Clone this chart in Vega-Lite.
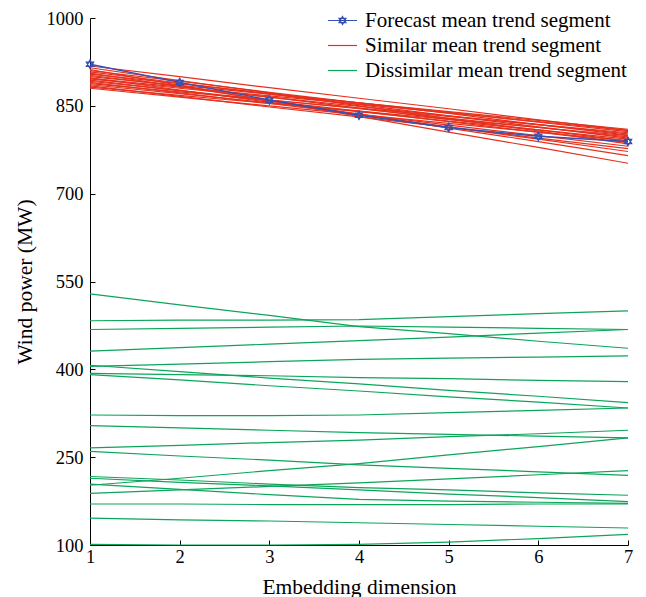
{
  "$schema": "https://vega.github.io/schema/vega-lite/v6.json",
  "width": 538,
  "height": 527,
  "autosize": "none",
  "padding": {"left": 90, "top": 18, "right": 18, "bottom": 52},
  "background": "white",
  "config": {
    "view": {"stroke": null},
    "font": "Liberation Serif",
    "axis": {
      "grid": false,
      "domainColor": "#000000",
      "tickColor": "#000000",
      "labelColor": "#000000",
      "titleColor": "#000000",
      "labelFont": "Liberation Serif",
      "titleFont": "Liberation Serif",
      "labelFontSize": 18.5,
      "titleFontSize": 21.5,
      "titleFontWeight": "normal",
      "tickSize": -5,
      "domainWidth": 1
    }
  },
  "data": {
    "values": [
      {"s":"g1","t":"D","x":1,"y":304},{"s":"g1","t":"D","x":2,"y":300},{"s":"g1","t":"D","x":3,"y":296},{"s":"g1","t":"D","x":4,"y":292},{"s":"g1","t":"D","x":5,"y":289},{"s":"g1","t":"D","x":6,"y":286},{"s":"g1","t":"D","x":7,"y":283},
      {"s":"g2","t":"D","x":1,"y":266},{"s":"g2","t":"D","x":2,"y":270},{"s":"g2","t":"D","x":3,"y":275},{"s":"g2","t":"D","x":4,"y":279},{"s":"g2","t":"D","x":5,"y":285},{"s":"g2","t":"D","x":6,"y":290},{"s":"g2","t":"D","x":7,"y":296},
      {"s":"g3","t":"D","x":1,"y":260},{"s":"g3","t":"D","x":2,"y":252},{"s":"g3","t":"D","x":3,"y":245},{"s":"g3","t":"D","x":4,"y":237},{"s":"g3","t":"D","x":5,"y":231},{"s":"g3","t":"D","x":6,"y":225},{"s":"g3","t":"D","x":7,"y":219},
      {"s":"g4","t":"D","x":1,"y":202},{"s":"g4","t":"D","x":2,"y":214},{"s":"g4","t":"D","x":3,"y":227},{"s":"g4","t":"D","x":4,"y":239},{"s":"g4","t":"D","x":5,"y":254},{"s":"g4","t":"D","x":6,"y":268},{"s":"g4","t":"D","x":7,"y":283},
      {"s":"g5","t":"D","x":1,"y":217},{"s":"g5","t":"D","x":2,"y":211},{"s":"g5","t":"D","x":3,"y":204},{"s":"g5","t":"D","x":4,"y":198},{"s":"g5","t":"D","x":5,"y":194},{"s":"g5","t":"D","x":6,"y":189},{"s":"g5","t":"D","x":7,"y":185},
      {"s":"g6","t":"D","x":1,"y":214},{"s":"g6","t":"D","x":2,"y":207},{"s":"g6","t":"D","x":3,"y":201},{"s":"g6","t":"D","x":4,"y":194},{"s":"g6","t":"D","x":5,"y":187},{"s":"g6","t":"D","x":6,"y":181},{"s":"g6","t":"D","x":7,"y":174},
      {"s":"g7","t":"D","x":1,"y":204},{"s":"g7","t":"D","x":2,"y":195},{"s":"g7","t":"D","x":3,"y":186},{"s":"g7","t":"D","x":4,"y":178},{"s":"g7","t":"D","x":5,"y":175},{"s":"g7","t":"D","x":6,"y":173},{"s":"g7","t":"D","x":7,"y":171},
      {"s":"g8","t":"D","x":1,"y":188},{"s":"g8","t":"D","x":2,"y":194},{"s":"g8","t":"D","x":3,"y":200},{"s":"g8","t":"D","x":4,"y":206},{"s":"g8","t":"D","x":5,"y":213},{"s":"g8","t":"D","x":6,"y":220},{"s":"g8","t":"D","x":7,"y":227},
      {"s":"g9","t":"D","x":1,"y":170},{"s":"g9","t":"D","x":2,"y":170},{"s":"g9","t":"D","x":3,"y":169},{"s":"g9","t":"D","x":4,"y":169},{"s":"g9","t":"D","x":5,"y":169},{"s":"g9","t":"D","x":6,"y":170},{"s":"g9","t":"D","x":7,"y":170},
      {"s":"g10","t":"D","x":1,"y":146},{"s":"g10","t":"D","x":2,"y":143},{"s":"g10","t":"D","x":3,"y":141},{"s":"g10","t":"D","x":4,"y":138},{"s":"g10","t":"D","x":5,"y":135},{"s":"g10","t":"D","x":6,"y":132},{"s":"g10","t":"D","x":7,"y":129},
      {"s":"g11","t":"D","x":1,"y":101},{"s":"g11","t":"D","x":2,"y":100},{"s":"g11","t":"D","x":3,"y":100},{"s":"g11","t":"D","x":4,"y":101},{"s":"g11","t":"D","x":5,"y":105},{"s":"g11","t":"D","x":6,"y":111},{"s":"g11","t":"D","x":7,"y":118},
      {"s":"g12","t":"D","x":1,"y":529},{"s":"g12","t":"D","x":2,"y":510},{"s":"g12","t":"D","x":3,"y":492},{"s":"g12","t":"D","x":4,"y":473},{"s":"g12","t":"D","x":5,"y":461},{"s":"g12","t":"D","x":6,"y":448},{"s":"g12","t":"D","x":7,"y":436},
      {"s":"g13","t":"D","x":1,"y":483},{"s":"g13","t":"D","x":2,"y":484},{"s":"g13","t":"D","x":3,"y":484},{"s":"g13","t":"D","x":4,"y":485},{"s":"g13","t":"D","x":5,"y":490},{"s":"g13","t":"D","x":6,"y":495},{"s":"g13","t":"D","x":7,"y":500},
      {"s":"g14","t":"D","x":1,"y":468},{"s":"g14","t":"D","x":2,"y":470},{"s":"g14","t":"D","x":3,"y":472},{"s":"g14","t":"D","x":4,"y":474},{"s":"g14","t":"D","x":5,"y":472},{"s":"g14","t":"D","x":6,"y":470},{"s":"g14","t":"D","x":7,"y":468},
      {"s":"g15","t":"D","x":1,"y":431},{"s":"g15","t":"D","x":2,"y":437},{"s":"g15","t":"D","x":3,"y":443},{"s":"g15","t":"D","x":4,"y":449},{"s":"g15","t":"D","x":5,"y":455},{"s":"g15","t":"D","x":6,"y":462},{"s":"g15","t":"D","x":7,"y":468},
      {"s":"g16","t":"D","x":1,"y":405},{"s":"g16","t":"D","x":2,"y":409},{"s":"g16","t":"D","x":3,"y":413},{"s":"g16","t":"D","x":4,"y":417},{"s":"g16","t":"D","x":5,"y":419},{"s":"g16","t":"D","x":6,"y":421},{"s":"g16","t":"D","x":7,"y":423},
      {"s":"g17","t":"D","x":1,"y":407},{"s":"g17","t":"D","x":2,"y":396},{"s":"g17","t":"D","x":3,"y":385},{"s":"g17","t":"D","x":4,"y":375},{"s":"g17","t":"D","x":5,"y":364},{"s":"g17","t":"D","x":6,"y":354},{"s":"g17","t":"D","x":7,"y":343},
      {"s":"g18","t":"D","x":1,"y":393},{"s":"g18","t":"D","x":2,"y":391},{"s":"g18","t":"D","x":3,"y":389},{"s":"g18","t":"D","x":4,"y":386},{"s":"g18","t":"D","x":5,"y":384},{"s":"g18","t":"D","x":6,"y":381},{"s":"g18","t":"D","x":7,"y":379},
      {"s":"g19","t":"D","x":1,"y":391},{"s":"g19","t":"D","x":2,"y":382},{"s":"g19","t":"D","x":3,"y":372},{"s":"g19","t":"D","x":4,"y":363},{"s":"g19","t":"D","x":5,"y":353},{"s":"g19","t":"D","x":6,"y":344},{"s":"g19","t":"D","x":7,"y":334},
      {"s":"g20","t":"D","x":1,"y":322},{"s":"g20","t":"D","x":2,"y":321},{"s":"g20","t":"D","x":3,"y":321},{"s":"g20","t":"D","x":4,"y":322},{"s":"g20","t":"D","x":5,"y":326},{"s":"g20","t":"D","x":6,"y":330},{"s":"g20","t":"D","x":7,"y":334},
      {"s":"r1","t":"S","x":1,"y":918},{"s":"r1","t":"S","x":2,"y":900},{"s":"r1","t":"S","x":3,"y":881},{"s":"r1","t":"S","x":4,"y":863},{"s":"r1","t":"S","x":5,"y":845},{"s":"r1","t":"S","x":6,"y":826},{"s":"r1","t":"S","x":7,"y":808},
      {"s":"r2","t":"S","x":1,"y":915},{"s":"r2","t":"S","x":2,"y":893},{"s":"r2","t":"S","x":3,"y":872},{"s":"r2","t":"S","x":4,"y":850},{"s":"r2","t":"S","x":5,"y":828},{"s":"r2","t":"S","x":6,"y":807},{"s":"r2","t":"S","x":7,"y":785},
      {"s":"r3","t":"S","x":1,"y":912},{"s":"r3","t":"S","x":2,"y":885},{"s":"r3","t":"S","x":3,"y":859},{"s":"r3","t":"S","x":4,"y":832},{"s":"r3","t":"S","x":5,"y":805},{"s":"r3","t":"S","x":6,"y":779},{"s":"r3","t":"S","x":7,"y":752},
      {"s":"r4","t":"S","x":1,"y":910},{"s":"r4","t":"S","x":2,"y":892},{"s":"r4","t":"S","x":3,"y":873},{"s":"r4","t":"S","x":4,"y":855},{"s":"r4","t":"S","x":5,"y":837},{"s":"r4","t":"S","x":6,"y":818},{"s":"r4","t":"S","x":7,"y":800},
      {"s":"r5","t":"S","x":1,"y":908},{"s":"r5","t":"S","x":2,"y":889},{"s":"r5","t":"S","x":3,"y":870},{"s":"r5","t":"S","x":4,"y":852},{"s":"r5","t":"S","x":5,"y":833},{"s":"r5","t":"S","x":6,"y":814},{"s":"r5","t":"S","x":7,"y":795},
      {"s":"r6","t":"S","x":1,"y":906},{"s":"r6","t":"S","x":2,"y":883},{"s":"r6","t":"S","x":3,"y":859},{"s":"r6","t":"S","x":4,"y":836},{"s":"r6","t":"S","x":5,"y":812},{"s":"r6","t":"S","x":6,"y":789},{"s":"r6","t":"S","x":7,"y":765},
      {"s":"r7","t":"S","x":1,"y":904},{"s":"r7","t":"S","x":2,"y":888},{"s":"r7","t":"S","x":3,"y":871},{"s":"r7","t":"S","x":4,"y":855},{"s":"r7","t":"S","x":5,"y":839},{"s":"r7","t":"S","x":6,"y":822},{"s":"r7","t":"S","x":7,"y":806},
      {"s":"r8","t":"S","x":1,"y":902},{"s":"r8","t":"S","x":2,"y":883},{"s":"r8","t":"S","x":3,"y":865},{"s":"r8","t":"S","x":4,"y":846},{"s":"r8","t":"S","x":5,"y":827},{"s":"r8","t":"S","x":6,"y":809},{"s":"r8","t":"S","x":7,"y":790},
      {"s":"r9","t":"S","x":1,"y":900},{"s":"r9","t":"S","x":2,"y":885},{"s":"r9","t":"S","x":3,"y":870},{"s":"r9","t":"S","x":4,"y":855},{"s":"r9","t":"S","x":5,"y":840},{"s":"r9","t":"S","x":6,"y":825},{"s":"r9","t":"S","x":7,"y":810},
      {"s":"r10","t":"S","x":1,"y":898},{"s":"r10","t":"S","x":2,"y":877},{"s":"r10","t":"S","x":3,"y":856},{"s":"r10","t":"S","x":4,"y":835},{"s":"r10","t":"S","x":5,"y":814},{"s":"r10","t":"S","x":6,"y":793},{"s":"r10","t":"S","x":7,"y":772},
      {"s":"r11","t":"S","x":1,"y":896},{"s":"r11","t":"S","x":2,"y":880},{"s":"r11","t":"S","x":3,"y":865},{"s":"r11","t":"S","x":4,"y":849},{"s":"r11","t":"S","x":5,"y":833},{"s":"r11","t":"S","x":6,"y":818},{"s":"r11","t":"S","x":7,"y":802},
      {"s":"r12","t":"S","x":1,"y":894},{"s":"r12","t":"S","x":2,"y":876},{"s":"r12","t":"S","x":3,"y":858},{"s":"r12","t":"S","x":4,"y":841},{"s":"r12","t":"S","x":5,"y":823},{"s":"r12","t":"S","x":6,"y":805},{"s":"r12","t":"S","x":7,"y":787},
      {"s":"r13","t":"S","x":1,"y":892},{"s":"r13","t":"S","x":2,"y":876},{"s":"r13","t":"S","x":3,"y":860},{"s":"r13","t":"S","x":4,"y":845},{"s":"r13","t":"S","x":5,"y":829},{"s":"r13","t":"S","x":6,"y":813},{"s":"r13","t":"S","x":7,"y":797},
      {"s":"r14","t":"S","x":1,"y":890},{"s":"r14","t":"S","x":2,"y":872},{"s":"r14","t":"S","x":3,"y":854},{"s":"r14","t":"S","x":4,"y":836},{"s":"r14","t":"S","x":5,"y":817},{"s":"r14","t":"S","x":6,"y":799},{"s":"r14","t":"S","x":7,"y":781},
      {"s":"r15","t":"S","x":1,"y":888},{"s":"r15","t":"S","x":2,"y":874},{"s":"r15","t":"S","x":3,"y":860},{"s":"r15","t":"S","x":4,"y":846},{"s":"r15","t":"S","x":5,"y":832},{"s":"r15","t":"S","x":6,"y":818},{"s":"r15","t":"S","x":7,"y":804},
      {"s":"r16","t":"S","x":1,"y":886},{"s":"r16","t":"S","x":2,"y":871},{"s":"r16","t":"S","x":3,"y":855},{"s":"r16","t":"S","x":4,"y":840},{"s":"r16","t":"S","x":5,"y":824},{"s":"r16","t":"S","x":6,"y":809},{"s":"r16","t":"S","x":7,"y":793},
      {"s":"r17","t":"S","x":1,"y":884},{"s":"r17","t":"S","x":2,"y":866},{"s":"r17","t":"S","x":3,"y":848},{"s":"r17","t":"S","x":4,"y":831},{"s":"r17","t":"S","x":5,"y":813},{"s":"r17","t":"S","x":6,"y":795},{"s":"r17","t":"S","x":7,"y":777},
      {"s":"r18","t":"S","x":1,"y":882},{"s":"r18","t":"S","x":2,"y":868},{"s":"r18","t":"S","x":3,"y":854},{"s":"r18","t":"S","x":4,"y":841},{"s":"r18","t":"S","x":5,"y":827},{"s":"r18","t":"S","x":6,"y":813},{"s":"r18","t":"S","x":7,"y":799},
      {"s":"r19","t":"S","x":1,"y":880},{"s":"r19","t":"S","x":2,"y":865},{"s":"r19","t":"S","x":3,"y":850},{"s":"r19","t":"S","x":4,"y":835},{"s":"r19","t":"S","x":5,"y":820},{"s":"r19","t":"S","x":6,"y":805},{"s":"r19","t":"S","x":7,"y":790},
      {"s":"r20","t":"S","x":1,"y":897},{"s":"r20","t":"S","x":2,"y":882},{"s":"r20","t":"S","x":3,"y":867},{"s":"r20","t":"S","x":4,"y":853},{"s":"r20","t":"S","x":5,"y":838},{"s":"r20","t":"S","x":6,"y":823},{"s":"r20","t":"S","x":7,"y":808},
      {"s":"f","t":"F","x":1,"y":921},{"s":"f","t":"F","x":2,"y":890},{"s":"f","t":"F","x":3,"y":860},{"s":"f","t":"F","x":4,"y":834},{"s":"f","t":"F","x":5,"y":813},{"s":"f","t":"F","x":6,"y":798},{"s":"f","t":"F","x":7,"y":789}
    ]
  },
  "encoding": {
    "x": {
      "field": "x", "type": "quantitative",
      "scale": {"domain": [1, 7], "nice": false, "zero": false},
      "axis": {"values": [1,2,3,4,5,6,7], "format": "d", "title": "Embedding dimension", "labelPadding": 7, "titleY": 48, "titleBaseline": "alphabetic", "labelFlush": false}
    },
    "y": {
      "field": "y", "type": "quantitative",
      "scale": {"domain": [100, 1000], "nice": false, "zero": false},
      "axis": {"values": [100,250,400,550,700,850,1000], "format": "d", "title": "Wind power (MW)", "labelPadding": 12, "titleX": -65, "titleY": 263.5, "titleBaseline": "middle", "titleAngle": 270, "titleAlign": "center", "labelFlush": false}
    },
    "color": {
      "field": "t", "type": "nominal",
      "scale": {"domain": ["F", "S", "D"], "range": ["#3550b0", "#e5301e", "#0ca55a"]},
      "legend": {
        "orient": "none", "legendX": 242, "legendY": -8,
        "title": null, "padding": 0,
        "symbolType": "M-2,0H2",
        "symbolSize": 210,
        "symbolStrokeWidth": 1.2,
        "symbolFillColor": "transparent",
        "labelFont": "Liberation Serif", "labelFontSize": 21, "labelColor": "#000000",
        "labelLimit": 0,
        "labelOffset": 12, "rowPadding": 3,
        "labelExpr": "datum.label == 'F' ? 'Forecast mean trend segment' : datum.label == 'S' ? 'Similar mean trend segment' : 'Dissimilar mean trend segment'",
        "encode": {"symbols": {"update": {"shape": {"signal": "datum.value == 'F' ? 'M-2,0H2M0,-0.55L0.48,0.28L-0.48,0.28ZM0,0.55L-0.48,-0.28L0.48,-0.28Z' : 'M-2,0H2'"}}}}
      }
    }
  },
  "layer": [
    {"transform": [{"filter": "datum.t == 'D'"}], "mark": {"type": "line", "strokeWidth": 1.2}, "encoding": {"detail": {"field": "s"}}},
    {"transform": [{"filter": "datum.t == 'S'"}], "mark": {"type": "line", "strokeWidth": 1.2}, "encoding": {"detail": {"field": "s"}}},
    {"transform": [{"filter": "datum.t == 'F'"}], "mark": {"type": "line", "strokeWidth": 1.4}, "encoding": {"detail": {"field": "s"}}},
    {"transform": [{"filter": "datum.t == 'F'"}], "mark": {"type": "point", "filled": false, "strokeWidth": 1.3, "size": 70, "opacity": 1, "shape": "M0,-1L0.866,0.5L-0.866,0.5ZM0,1L-0.866,-0.5L0.866,-0.5Z"}, "encoding": {}}
  ]
}
